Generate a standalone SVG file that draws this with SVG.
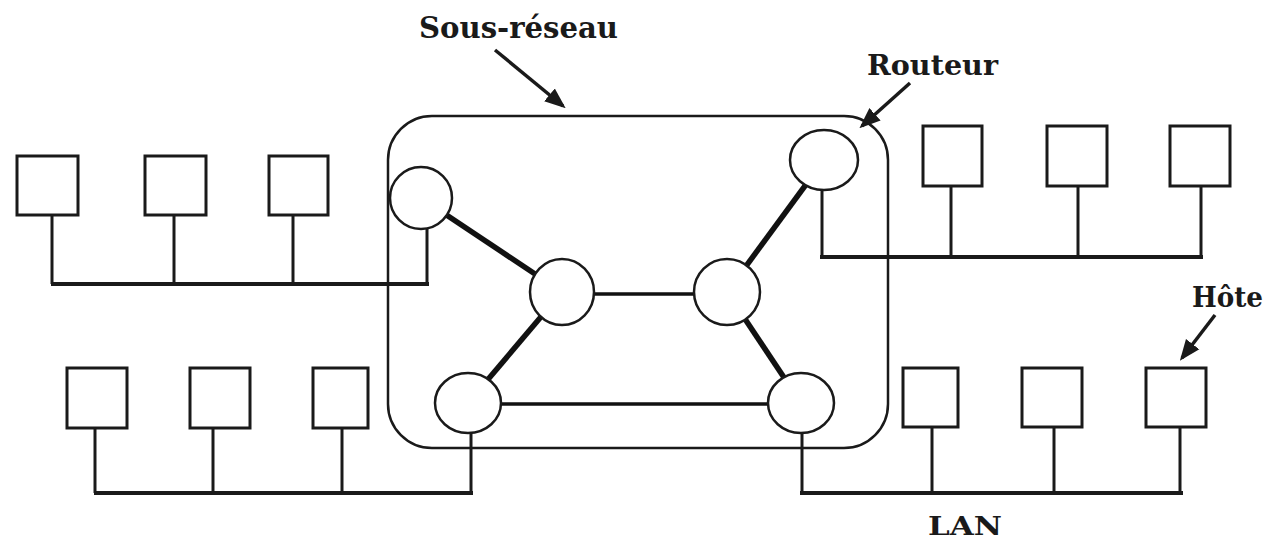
<svg xmlns="http://www.w3.org/2000/svg" width="1272" height="542" viewBox="0 0 1272 542">
<style>
.host{fill:#fff;stroke:#1a1a1a;stroke-width:3}
.router{fill:#fff;stroke:#1a1a1a;stroke-width:2.5}
.drop{stroke:#1a1a1a;stroke-width:3;fill:none}
.bus{stroke:#1a1a1a;stroke-width:4;fill:none}
.thick{stroke:#111;stroke-width:5.5;fill:none}
.thin{stroke:#111;stroke-width:3.5;fill:none}
.lbl{font-family:"DejaVu Serif","Liberation Serif",serif;font-weight:bold;fill:#1a1a1a}
.ptr{stroke:#1a1a1a;stroke-width:3.5;fill:none}
</style>
<defs>
<marker id="ah" markerWidth="6" markerHeight="6" refX="5" refY="3" orient="auto" markerUnits="strokeWidth">
<path d="M0,0.6 L6,3 L0,5.4 z" fill="#1a1a1a"/>
</marker>
</defs>
<rect width="1272" height="542" fill="#fff"/>
<g id="subnet">
<rect x="388" y="116" width="500" height="332" rx="44" ry="44" fill="none" stroke="#1a1a1a" stroke-width="2.5"/>
</g>
<g id="connectors">
<line class="thick" x1="421" y1="198" x2="562" y2="292"/>
<line class="thick" x1="824" y1="160" x2="727" y2="292"/>
<line class="thick" x1="562" y1="292" x2="468" y2="403"/>
<line class="thick" x1="727" y1="292" x2="801" y2="403"/>
<line class="thin" x1="562" y1="294" x2="727" y2="294"/>
<line class="thin" x1="468" y1="404" x2="801" y2="404"/>
<line class="drop" x1="427" y1="228" x2="427" y2="284"/>
<line class="bus" x1="51" y1="284" x2="429" y2="284"/>
<line class="drop" x1="52" y1="214" x2="52" y2="284"/>
<line class="drop" x1="174" y1="214" x2="174" y2="284"/>
<line class="drop" x1="293" y1="214" x2="293" y2="284"/>
<line class="drop" x1="471" y1="432" x2="471" y2="493"/>
<line class="bus" x1="94" y1="493" x2="473" y2="493"/>
<line class="drop" x1="95" y1="427" x2="95" y2="493"/>
<line class="drop" x1="213" y1="427" x2="213" y2="493"/>
<line class="drop" x1="342" y1="427" x2="342" y2="493"/>
<line class="drop" x1="822" y1="189" x2="822" y2="257"/>
<line class="bus" x1="820" y1="257" x2="1203" y2="257"/>
<line class="drop" x1="951" y1="185" x2="951" y2="257"/>
<line class="drop" x1="1078" y1="185" x2="1078" y2="257"/>
<line class="drop" x1="1201" y1="185" x2="1201" y2="257"/>
<line class="drop" x1="802" y1="432" x2="802" y2="493"/>
<line class="bus" x1="800" y1="493" x2="1183" y2="493"/>
<line class="drop" x1="932" y1="426" x2="932" y2="493"/>
<line class="drop" x1="1054" y1="426" x2="1054" y2="493"/>
<line class="drop" x1="1180" y1="426" x2="1180" y2="493"/>
<line class="ptr" x1="495" y1="50" x2="563" y2="106" marker-end="url(#ah)"/>
<line class="ptr" x1="910" y1="83" x2="862" y2="126" marker-end="url(#ah)"/>
<line class="ptr" x1="1215" y1="315" x2="1182" y2="358" marker-end="url(#ah)"/>
</g>
<g id="routers">
<ellipse id="r1" class="router" cx="421" cy="198" rx="31" ry="31"/>
<ellipse id="r2" class="router" cx="824" cy="160" rx="34" ry="30"/>
<ellipse id="r3" class="router" cx="562" cy="292" rx="32" ry="33"/>
<ellipse id="r4" class="router" cx="727" cy="292" rx="33" ry="33"/>
<ellipse id="r5" class="router" cx="468" cy="403" rx="33" ry="30"/>
<ellipse id="r6" class="router" cx="801" cy="403" rx="33" ry="30"/>
</g>
<g id="hosts">
<rect id="h1" class="host" x="17" y="156" width="61" height="59"/>
<rect id="h2" class="host" x="145" y="156" width="61" height="59"/>
<rect id="h3" class="host" x="269" y="156" width="59" height="59"/>
<rect id="h4" class="host" x="67" y="368" width="60" height="60"/>
<rect id="h5" class="host" x="190" y="368" width="60" height="60"/>
<rect id="h6" class="host" x="313" y="368" width="55" height="60"/>
<rect id="h7" class="host" x="923" y="126" width="59" height="60"/>
<rect id="h8" class="host" x="1047" y="126" width="60" height="60"/>
<rect id="h9" class="host" x="1170" y="126" width="60" height="60"/>
<rect id="h10" class="host" x="903" y="368" width="55" height="59"/>
<rect id="h11" class="host" x="1022" y="368" width="60" height="59"/>
<rect id="h12" class="host" x="1146" y="368" width="60" height="59"/>
</g>
<g id="labels">
<text class="lbl" x="419" y="38" font-size="29" textLength="199" lengthAdjust="spacingAndGlyphs">Sous-réseau</text>
<text class="lbl" x="867" y="75" font-size="27" textLength="131" lengthAdjust="spacingAndGlyphs">Routeur</text>
<text class="lbl" x="1192" y="307" font-size="27" textLength="71" lengthAdjust="spacingAndGlyphs">Hôte</text>
<text class="lbl" x="928" y="535" font-size="26" textLength="74" lengthAdjust="spacingAndGlyphs">LAN</text>
</g>
</svg>
